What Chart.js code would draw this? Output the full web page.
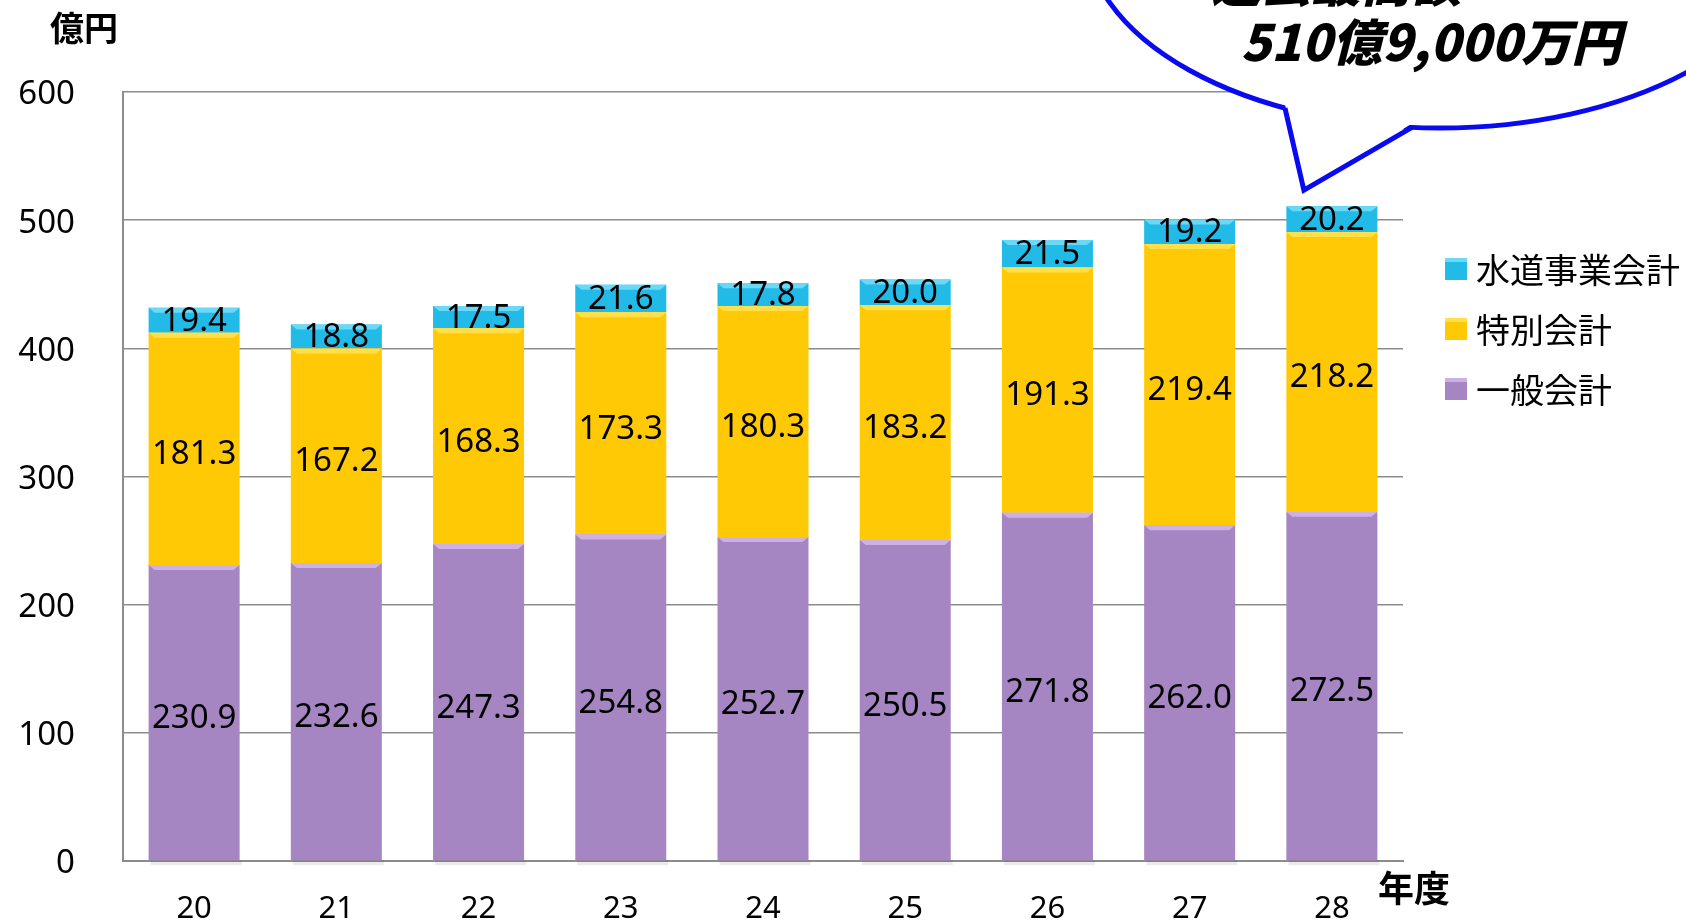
<!DOCTYPE html>
<html lang="ja">
<head>
<meta charset="utf-8">
<title>会計別予算額の推移</title>
<script src="https://cdn.jsdelivr.net/npm/chart.js@4.4.1/dist/chart.umd.min.js"></script>
<style>
  html, body { margin: 0; padding: 0; background: #fff; }
  canvas { display: block; }
</style>
</head>
<body>
<canvas id="budget-chart" width="1686" height="923"></canvas>
<script>
// 年度（平成）
const years = ['20', '21', '22', '23', '24', '25', '26', '27', '28'];

// 億円
const generalAccount = [230.9, 232.6, 247.3, 254.8, 252.7, 250.5, 271.8, 262.0, 272.5];
const specialAccount = [181.3, 167.2, 168.3, 173.3, 180.3, 183.2, 191.3, 219.4, 218.2];
const waterAccount = [19.4, 18.8, 17.5, 21.6, 17.8, 20.0, 21.5, 19.2, 20.2];

const yTicks = [0, 100, 200, 300, 400, 500, 600];

const FONT = "'Noto Sans', 'Noto Sans CJK JP', sans-serif";
const JP_FONT = "'Noto Sans CJK JP', sans-serif";
const GRID = '#8c8c8c';


// value labels in the middle of every segment
const segmentLabels = {
  id: 'segmentLabels',
  afterDatasetsDraw(chart) {
    const ctx = chart.ctx;
    ctx.save();
    ctx.font = '33px ' + FONT;
    ctx.fillStyle = '#000';
    ctx.textAlign = 'center';
    ctx.textBaseline = 'middle';
    chart.data.datasets.forEach((ds, i) => {
      chart.getDatasetMeta(i).data.forEach((bar, j) => {
        const h = bar.base - bar.y;
        const shift = h > 60 ? 6 : 1;
        ctx.fillText(ds.data[j].toFixed(1), bar.x, (bar.y + bar.base) / 2 + shift);
      });
    });
    ctx.restore();
  }
};

// light bevel on top of each segment
const bevel = {
  id: 'bevel',
  afterDatasetsDraw(chart) {
    const ctx = chart.ctx;
    ctx.save();
    chart.data.datasets.forEach((ds, i) => {
      chart.getDatasetMeta(i).data.forEach((bar) => {
        const left = bar.x - bar.width / 2;
        const top = bar.y;
        ctx.fillStyle = ds.bevelColor;
        ctx.beginPath();
        ctx.moveTo(left, top);
        ctx.lineTo(left + bar.width, top);
        ctx.lineTo(left + bar.width - 6, top + 5);
        ctx.lineTo(left + 6, top + 5);
        ctx.closePath();
        ctx.fill();
      });
    });
    ctx.restore();
  },
  beforeDatasetsDraw(chart) {
    // soft shadow under the stacks
    const ctx = chart.ctx;
    const meta = chart.getDatasetMeta(0);
    ctx.save();
    ctx.fillStyle = 'rgba(0,0,0,0.08)';
    meta.data.forEach((bar) => {
      ctx.fillRect(bar.x - bar.width / 2 + 2, bar.base, bar.width, 5);
    });
    ctx.restore();
  }
};

// legend, axis titles and callout
const decorations = {
  id: 'decorations',
  afterDraw(chart) {
    const ctx = chart.ctx;
    ctx.save();

    // 単位
    ctx.fillStyle = '#000';
    ctx.font = 'bold 34px ' + JP_FONT;
    ctx.textAlign = 'center';
    ctx.textBaseline = 'middle';
    ctx.fillText('億円', 84, 28);
    ctx.font = 'bold 36px ' + JP_FONT;
    ctx.fillText('年度', 1414, 888);

    // legend (top series first)
    const rows = [269, 329, 389];
    const sets = chart.data.datasets.slice().reverse();
    ctx.font = '34px ' + JP_FONT;
    ctx.textAlign = 'left';
    sets.forEach((ds, k) => {
      const y = rows[k];
      ctx.fillStyle = ds.backgroundColor;
      ctx.fillRect(1445, y - 11, 22, 22);
      ctx.fillStyle = ds.bevelColor;
      ctx.fillRect(1445, y - 11, 22, 4);
      ctx.fillStyle = '#000';
      ctx.fillText(ds.label, 1476, y + 1);
    });

    // speech bubble pointing at the last bar
    const meta = chart.getDatasetMeta(chart.data.datasets.length - 1);
    const last = meta.data[meta.data.length - 1];
    const tipX = last.x - 28;
    const tipY = last.y - 16;
    const cx = 1440, cy = -70, rx = 355, ry = 198;
    const baseL = 1285, baseR = 1412;
    const yOn = (x) => cy + ry * Math.sqrt(1 - Math.pow((x - cx) / rx, 2));

    ctx.lineWidth = 5;
    ctx.strokeStyle = '#0a0af0';
    ctx.fillStyle = '#fff';
    ctx.beginPath();
    ctx.ellipse(cx, cy, rx, ry, 0, 0, Math.PI * 2);
    ctx.fill();
    ctx.stroke();

    ctx.beginPath();
    ctx.moveTo(baseL, yOn(baseL) - 4);
    ctx.lineTo(tipX, tipY);
    ctx.lineTo(baseR, yOn(baseR) - 4);
    ctx.closePath();
    ctx.fill();

    ctx.beginPath();
    ctx.moveTo(baseL, yOn(baseL));
    ctx.lineTo(tipX, tipY);
    ctx.lineTo(baseR, yOn(baseR));
    ctx.lineJoin = 'miter';
    ctx.stroke();

    ctx.fillStyle = '#000';
    ctx.textAlign = 'center';
    ctx.font = 'italic 900 50px ' + JP_FONT;
    ctx.textBaseline = 'bottom';
    ctx.fillText('過去最高額', 1336, 8);
    ctx.textBaseline = 'alphabetic';
    ctx.fillText('510億9,000万円', 1431, 61);

    ctx.restore();
  }
};


const budgetData = {
  labels: years,
  datasets: [
    {
      label: '一般会計',
      data: generalAccount,
      backgroundColor: '#a686c2',
      bevelColor: '#cdb0e6'
    },
    {
      label: '特別会計',
      data: specialAccount,
      backgroundColor: '#ffca05',
      bevelColor: '#ffe04a'
    },
    {
      label: '水道事業会計',
      data: waterAccount,
      backgroundColor: '#22bbe8',
      bevelColor: '#6ad8f7'
    }
  ]
};

const budgetOptions = {
  responsive: false,
  animation: false,
  layout: {
    padding: { left: 0, right: 283, top: 92, bottom: 0 }
  },
  plugins: {
    legend: { display: false },
    tooltip: { enabled: false }
  },
  datasets: {
    bar: { barPercentage: 0.64, categoryPercentage: 1.0, borderWidth: 0 }
  },
  scales: {
    x: {
      stacked: true,
      grid: { display: false },
      border: { display: true, color: GRID, width: 2 },
      ticks: { color: '#000', font: { size: 31, family: FONT }, padding: 22 },
      afterFit(scale) { scale.height = 62; }
    },
    y: {
      stacked: true,
      min: 0,
      max: 600,
      afterBuildTicks(scale) { scale.ticks = yTicks.map(v => ({ value: v })); },
      grid: { color: GRID, lineWidth: 1.5, drawTicks: false },
      border: { display: true, color: GRID, width: 2 },
      ticks: { color: '#000', font: { size: 33, family: FONT }, padding: 48, labelOffset: 3 },
      afterFit(scale) {
        scale.width = 123;
        // keep the label padding from pushing the plot area up
        scale.paddingTop = 0;
        scale.paddingBottom = 0;
      }
    }
  }
};

const budgetChart = new Chart(document.getElementById('budget-chart'), {
  type: 'bar',
  data: budgetData,
  options: budgetOptions,
  plugins: [bevel, segmentLabels, decorations]
});
</script>
</body>
</html>
